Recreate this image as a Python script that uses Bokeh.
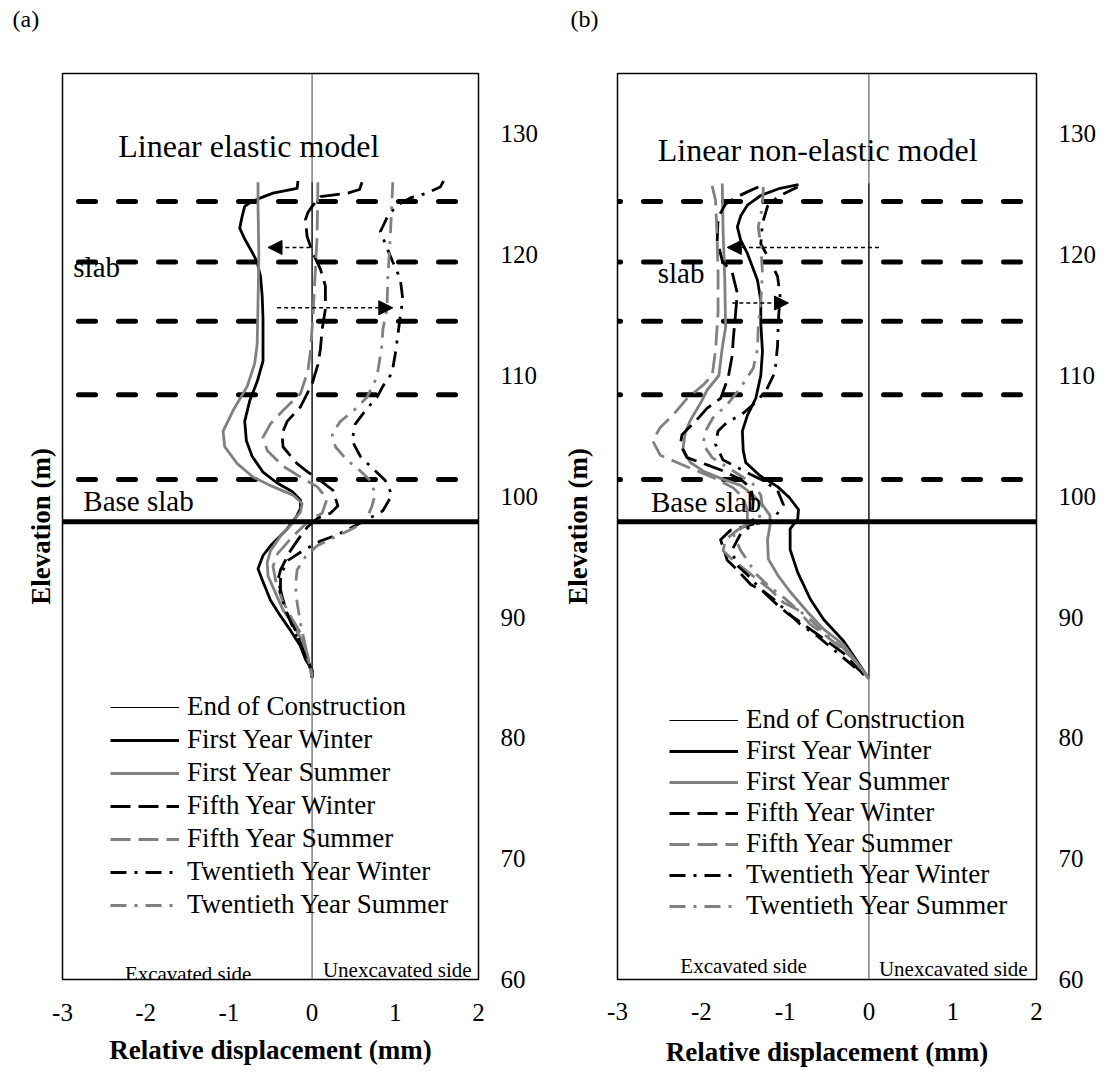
import math
from bokeh.plotting import figure
from bokeh.models import Span, Label, Arrow, NormalHead, Legend, LegendItem, FixedTicker, LinearAxis
from bokeh.layouts import row
from bokeh.embed import file_html
from bokeh.resources import INLINE

FONT = "Liberation Serif"
GRAY = "#808080"

SERIES = ["End of Construction", "First Year Winter", "First Year Summer",
          "Fifth Year Winter", "Fifth Year Summer",
          "Twentieth Year Winter", "Twentieth Year Summer"]
X_TICKS = [-3, -2, -1, 0, 1, 2]
X_TICK_LABELS = {-3: "-3", -2: "-2", -1: "-1", 0: "0", 1: "1", 2: "2"}
Y_TICKS = [60, 70, 80, 90, 100, 110, 120, 130]
SLAB_LEVELS = [124.4, 119.4, 114.5, 108.4, 101.4]
BASE_SLAB = 97.9

# ---------------- panel (a): linear elastic model ----------------
A_EOC_X = [0.0, 0.0]
A_EOC_Y = [85.0, 126.0]

A_FYW_X = [-0.17, -0.18, -0.47, -0.62, -0.75, -0.81, -0.84, -0.87, -0.81, -0.72, -0.66, -0.62, -0.60,
           -0.59, -0.59, -0.59, -0.66, -0.75, -0.81, -0.79, -0.72, -0.59, -0.42, -0.24, -0.14, -0.14,
           -0.19, -0.30, -0.50, -0.59, -0.65, -0.60, -0.50, -0.38, -0.26, -0.14, -0.08, 0.0, 0.0]
A_FYW_Y = [126.1, 125.5, 125.1, 124.7, 124.3, 124.0, 123.2, 122.2, 121.3, 120.2, 119.4, 118.2, 116.6,
           114.7, 112.4, 111.2, 109.5, 107.9, 106.2, 104.6, 103.3, 102.0, 101.1, 100.4, 99.7, 99.0,
           98.3, 97.3, 95.9, 95.1, 94.0, 93.1, 91.4, 90.1, 88.9, 87.6, 86.5, 85.6, 85.0]

A_FYS_X = [-0.65, -0.65, -0.64, -0.65, -0.66, -0.69, -0.78, -0.95, -1.07, -1.05, -0.90, -0.71, -0.47,
           -0.23, -0.12, -0.14, -0.20, -0.23, -0.38, -0.50, -0.54, -0.53, -0.44, -0.35, -0.24, -0.12,
           -0.06, -0.01, 0.0]
A_FYS_Y = [126.0, 124.0, 120.0, 116.0, 112.6, 111.0, 109.1, 107.1, 105.4, 104.1, 102.7, 101.6, 100.8,
           100.1, 99.4, 98.7, 98.2, 97.8, 96.7, 95.5, 94.5, 93.4, 92.0, 90.6, 89.5, 88.1,
           86.8, 85.6, 85.0]

A_FIW_X = [0.60, 0.57, 0.43, 0.10, 0.0, -0.05, -0.08, -0.06, 0.0, 0.10, 0.16, 0.16, 0.12, 0.10, 0.07,
           0.0, -0.14, -0.30, -0.36, -0.35, -0.18, -0.05, 0.10, 0.25, 0.31, 0.22, 0.07, -0.05, -0.14,
           -0.26, -0.38, -0.41, -0.36, -0.30, -0.20, -0.11, 0.0, 0.0]
A_FIW_Y = [126.0, 125.4, 125.1, 124.8, 124.0, 123.5, 122.9, 121.5, 120.3, 118.8, 117.4, 115.5, 113.8,
           112.2, 110.9, 109.3, 107.4, 106.2, 105.2, 104.1, 102.7, 102.0, 101.3, 100.5, 99.2, 98.6,
           98.2, 97.5, 96.7, 95.5, 93.9, 93.1, 91.7, 90.3, 88.9, 87.3, 85.6, 85.0]

A_FIS_X = [0.07, 0.06, 0.04, 0.01, -0.02, -0.05, -0.14, -0.35, -0.50, -0.59, -0.54, -0.35, -0.14, 0.06,
           0.18, 0.12, 0.01, -0.11, -0.23, -0.41, -0.47, -0.44, -0.36, -0.26, -0.14, -0.06, -0.01, 0.0]
A_FIS_Y = [126.0, 121.5, 118.8, 114.9, 112.0, 110.4, 108.5, 107.1, 106.0, 104.9, 103.8, 102.5, 101.6,
           100.8, 99.8, 98.6, 98.2, 97.5, 96.7, 95.3, 94.2, 93.1, 91.4, 90.1, 88.7, 87.0, 85.6, 85.0]

A_TWW_X = [1.58, 1.54, 1.38, 1.18, 1.02, 0.91, 0.82, 0.91, 0.97, 1.06, 1.09, 1.06, 1.03, 1.00, 0.96,
           0.85, 0.78, 0.64, 0.52, 0.48, 0.58, 0.73, 0.88, 0.96, 0.85, 0.72, 0.50, 0.30, 0.10, -0.11,
           -0.29, -0.38, -0.38, -0.32, -0.24, -0.12, -0.01, 0.0]
A_TWW_Y = [126.1, 125.6, 125.1, 124.7, 124.1, 123.2, 121.9, 120.4, 119.4, 118.0, 116.3, 114.9, 113.3,
           111.8, 110.2, 109.1, 108.2, 107.1, 106.0, 104.6, 103.3, 102.3, 101.3, 100.1, 98.8, 98.3,
           97.5, 96.8, 96.3, 95.5, 94.7, 93.5, 92.0, 90.6, 89.3, 87.3, 85.6, 85.0]

A_TWS_X = [0.97, 0.94, 0.91, 0.90, 0.85, 0.84, 0.78, 0.66, 0.50, 0.34, 0.24, 0.28, 0.42, 0.58, 0.70,
           0.76, 0.72, 0.66, 0.54, 0.30, 0.06, -0.08, -0.18, -0.20, -0.18, -0.14, -0.08, -0.02, 0.0]
A_TWS_Y = [126.0, 121.5, 118.0, 115.5, 113.8, 112.5, 109.9, 108.2, 107.1, 106.2, 105.2, 104.1, 103.0,
           102.1, 101.3, 100.2, 99.2, 98.2, 97.5, 96.7, 95.9, 95.0, 93.9, 92.6, 91.2, 89.5, 87.6,
           85.6, 85.0]

# ---------------- panel (b): linear non-elastic model ----------------
B_EOC_X = [0.0, 0.0]
B_EOC_Y = [84.9, 125.9]

B_FYW_X = [-0.84, -1.06, -1.29, -1.45, -1.53, -1.57, -1.53, -1.45, -1.39, -1.33, -1.29, -1.29, -1.27,
           -1.29, -1.35, -1.45, -1.51, -1.50, -1.47, -1.30, -1.09, -0.95, -0.84, -0.85, -0.94, -0.94,
           -0.85, -0.70, -0.54, -0.30, 0.0]
B_FYW_Y = [125.8, 125.5, 124.9, 124.1, 123.2, 122.3, 121.2, 120.1, 119.0, 117.9, 116.2, 114.3, 112.0,
           110.0, 108.1, 106.7, 105.4, 103.8, 102.8, 101.7, 100.8, 99.9, 98.9, 98.1, 97.3, 95.6,
           93.7, 91.5, 89.8, 88.0, 84.9]

B_FYS_X = [-1.75, -1.74, -1.72, -1.71, -1.75, -1.79, -1.93, -2.01, -2.13, -2.19, -2.22, -2.13, -1.98,
           -1.74, -1.53, -1.38, -1.26, -1.18, -1.18, -1.21, -1.20, -1.09, -0.94, -0.73, -0.54, -0.30, 0.0]
B_FYS_Y = [125.9, 122.0, 118.0, 114.0, 112.3, 110.0, 108.8, 107.7, 106.3, 105.3, 103.9, 102.8, 102.1,
           101.4, 100.9, 100.1, 99.2, 98.4, 97.6, 96.4, 94.8, 93.5, 92.1, 90.4, 89.0, 87.7, 84.9]

B_FIW_X = [-1.32, -1.45, -1.57, -1.71, -1.80, -1.81, -1.75, -1.63, -1.57, -1.59, -1.62, -1.63, -1.68,
           -1.77, -1.93, -2.07, -2.23, -2.25, -2.17, -1.93, -1.74, -1.53, -1.41, -1.38, -1.39, -1.38,
           -1.65, -1.77, -1.69, -1.57, -1.41, -1.26, -1.09, -0.97, -0.78, -0.66, -0.46, -0.30, -0.13, 0.0]
B_FIW_Y = [125.6, 125.2, 124.8, 124.2, 123.1, 121.2, 119.5, 118.5, 116.8, 115.2, 112.9, 111.7, 109.8,
           108.1, 107.3, 106.2, 105.1, 104.3, 103.2, 102.6, 102.1, 101.4, 100.7, 99.7, 98.5, 97.7,
           97.2, 96.4, 94.7, 93.9, 92.7, 92.1, 91.0, 90.3, 89.4, 88.8, 87.8, 87.0, 85.7, 84.9]

B_FIS_X = [-1.87, -1.83, -1.81, -1.80, -1.80, -1.83, -1.87, -1.98, -2.17, -2.34, -2.49, -2.58, -2.49,
           -2.29, -2.05, -1.81, -1.62, -1.50, -1.45, -1.45, -1.57, -1.71, -1.74, -1.62, -1.47, -1.33,
           -1.18, -1.02, -0.85, -0.70, -0.54, -0.34, -0.18, 0.0]
B_FIS_Y = [125.7, 124.5, 121.2, 118.5, 115.2, 112.1, 110.0, 109.2, 108.1, 106.7, 105.7, 104.6, 103.4,
           102.8, 102.1, 101.4, 100.7, 99.9, 98.8, 97.7, 97.2, 96.4, 95.5, 94.7, 93.9, 93.1,
           92.3, 91.2, 90.6, 89.4, 88.6, 87.5, 86.5, 84.9]

B_TWW_X = [-0.85, -1.09, -1.21, -1.27, -1.29, -1.21, -1.09, -1.06, -1.08, -1.09, -1.12, -1.23, -1.38,
           -1.53, -1.68, -1.80, -1.83, -1.74, -1.57, -1.41, -1.26, -1.09, -1.02, -1.15, -1.38, -1.53,
           -1.63, -1.59, -1.45, -1.29, -1.14, -0.97, -0.82, -0.61, -0.42, -0.18, 0.0]
B_TWW_Y = [125.6, 124.8, 124.0, 122.6, 120.9, 119.9, 118.2, 116.6, 114.6, 112.5, 110.3, 108.7, 107.6,
           106.7, 106.2, 105.4, 104.3, 103.0, 102.4, 101.8, 101.3, 100.5, 99.3, 98.0, 97.7, 96.9,
           95.6, 94.4, 93.5, 92.3, 91.5, 90.4, 89.4, 88.4, 87.3, 85.9, 84.9]

B_TWS_X = [-1.26, -1.27, -1.32, -1.29, -1.27, -1.29, -1.32, -1.33, -1.38, -1.53, -1.69, -1.86, -1.95,
           -1.98, -1.87, -1.69, -1.53, -1.38, -1.29, -1.27, -1.32, -1.45, -1.62, -1.53, -1.45, -1.35,
           -1.20, -1.03, -0.88, -0.70, -0.52, -0.30, -0.13, 0.0]
B_TWS_Y = [125.6, 124.0, 122.3, 120.7, 118.5, 116.2, 114.1, 112.2, 110.6, 109.0, 107.6, 106.5, 105.4,
           104.3, 103.2, 102.4, 101.7, 101.0, 100.1, 99.1, 98.0, 97.7, 96.9, 95.5, 94.7, 93.6,
           92.6, 91.7, 90.8, 89.8, 88.6, 87.4, 86.1, 84.9]

# arrows (x_start, y_start, x_end, y_end)
A_ARROWS = [(-0.02, 120.6, -0.53, 120.6), (-0.42, 115.6, 0.97, 115.6)]
B_ARROWS = [(0.12, 120.6, -1.69, 120.6), (-1.63, 116.0, -0.96, 116.0)]

STYLES = {
    "End of Construction": dict(color="black", width=1.0, dash="solid"),
    "First Year Winter": dict(color="black", width=2.8, dash="solid"),
    "First Year Summer": dict(color=GRAY, width=2.8, dash="solid"),
    "Fifth Year Winter": dict(color="black", width=2.8, dash="20 8"),
    "Fifth Year Summer": dict(color=GRAY, width=2.8, dash="20 8"),
    "Twentieth Year Winter": dict(color="black", width=2.8, dash="16 8 3 8"),
    "Twentieth Year Summer": dict(color=GRAY, width=2.8, dash="16 8 3 8"),
}


def build_panel(width, border_l, border_r, border_t, border_b, curves, arrows, title, title_xy,
                slab_xy, base_xy, exc_xy, unexc_xy, dash_offset, legend_loc, legend_spacing,
                panel_label, panel_offset, panel_standoff, elev_standoff, tick_standoff, xlabel_standoff):
    p = figure(width=width, height=1073, x_range=(-3, 2), y_range=(60, 135),
               y_axis_location="right", output_backend="svg", toolbar_location=None,
               min_border_left=border_l, min_border_right=border_r,
               min_border_top=border_t, min_border_bottom=border_b)
    p.xgrid.visible = False
    p.ygrid.visible = False
    p.background_fill_color = "white"
    p.border_fill_color = "white"
    p.outline_line_color = "black"
    p.outline_line_width = 1.5

    # panel label "(a)" / "(b)" as the plot title (blank second line lifts it to the top edge)
    p.title.text = panel_label + "\n "
    p.title.text_font = FONT
    p.title.text_font_size = "24px"
    p.title.text_font_style = "normal"
    p.title.text_color = "black"
    p.title.text_line_height = 1.45
    p.title.align = "left"
    p.title.vertical_align = "top"
    p.title.offset = panel_offset
    p.title.standoff = panel_standoff

    xa = p.xaxis[0]
    xa.ticker = FixedTicker(ticks=X_TICKS)
    xa.major_label_overrides = X_TICK_LABELS
    xa.axis_line_color = None
    xa.major_tick_line_color = None
    xa.minor_tick_line_color = None
    xa.major_tick_out = 0
    xa.major_tick_in = 0
    xa.major_label_text_font = FONT
    xa.major_label_text_font_size = "25px"
    xa.major_label_text_color = "black"
    xa.major_label_standoff = tick_standoff
    xa.axis_label = "Relative displacement (mm)"
    xa.axis_label_text_font = FONT
    xa.axis_label_text_font_style = "bold"
    xa.axis_label_text_font_size = "27px"
    xa.axis_label_text_color = "black"
    xa.axis_label_standoff = xlabel_standoff

    ya = p.yaxis[0]
    ya.ticker = FixedTicker(ticks=Y_TICKS)
    ya.axis_line_color = None
    ya.major_tick_line_color = None
    ya.minor_tick_line_color = None
    ya.major_tick_out = 0
    ya.major_tick_in = 0
    ya.major_label_text_font = FONT
    ya.major_label_text_font_size = "25px"
    ya.major_label_text_color = "black"
    ya.major_label_standoff = 22

    # left axis carrying only the title "Elevation (m)"
    la = LinearAxis(ticker=FixedTicker(ticks=[]), axis_line_color=None,
                    major_tick_line_color=None, minor_tick_line_color=None,
                    major_tick_out=0, major_tick_in=0, minor_tick_out=0,
                    major_label_text_font_size="0px", major_label_standoff=0,
                    axis_label="Elevation (m)", axis_label_text_font=FONT,
                    axis_label_text_font_style="bold", axis_label_text_font_size="27px",
                    axis_label_text_color="black", axis_label_standoff=elev_standoff)
    p.add_layout(la, "left")

    # vertical reference axis at zero
    p.add_layout(Span(location=0, dimension="height", line_color=GRAY, line_width=1.5, level="underlay"))
    # floor slabs
    for lev in SLAB_LEVELS:
        p.add_layout(Span(location=lev, dimension="width", line_color="black", line_width=5,
                          line_dash="17 23", line_dash_offset=dash_offset, line_cap="round",
                          level="underlay"))
    # base slab
    p.add_layout(Span(location=BASE_SLAB, dimension="width", line_color="black", line_width=5))

    items = []
    for name, (xs, ys) in zip(SERIES, curves):
        st = STYLES[name]
        r = p.line(xs, ys, line_color=st["color"], line_width=st["width"], line_dash=st["dash"],
                   line_join="round")
        items.append(LegendItem(label=name, renderers=[r]))

    for (x0, y0, x1, y1) in arrows:
        p.add_layout(Arrow(end=NormalHead(size=14, fill_color="black", line_color="black"),
                           x_start=x0, y_start=y0, x_end=x1, y_end=y1,
                           line_color="black", line_width=1.5, line_dash="4 3"))

    legend = Legend(items=items, location=legend_loc, padding=0, margin=0, spacing=legend_spacing,
                    glyph_width=69, glyph_height=20, label_height=20, label_standoff=8,
                    label_text_font=FONT, label_text_font_size="27px", label_text_color="black",
                    border_line_color=None, background_fill_alpha=0)
    p.add_layout(legend, "center")

    def txt(s, xy, size):
        p.add_layout(Label(x=xy[0], y=xy[1], text=s, text_font=FONT, text_font_size=size,
                           text_color="black", text_align="left", text_baseline="alphabetic"))

    txt(title, title_xy, "32px")
    txt("slab", slab_xy, "29px")
    txt("Base slab", base_xy, "29px")
    txt("Excavated side", exc_xy, "21px")
    txt("Unexcavated side", unexc_xy, "21px")
    return p


curves_a = [(A_EOC_X, A_EOC_Y), (A_FYW_X, A_FYW_Y), (A_FYS_X, A_FYS_Y), (A_FIW_X, A_FIW_Y),
            (A_FIS_X, A_FIS_Y), (A_TWW_X, A_TWW_Y), (A_TWS_X, A_TWS_Y)]
curves_b = [(B_EOC_X, B_EOC_Y), (B_FYW_X, B_FYW_Y), (B_FYS_X, B_FYS_Y), (B_FIW_X, B_FIW_Y),
            (B_FIS_X, B_FIS_Y), (B_TWW_X, B_TWW_Y), (B_TWS_X, B_TWS_Y)]

pa = build_panel(555, 62, 77, 73, 90, curves_a, A_ARROWS, "Linear elastic model", (-2.33, 129.0),
                 (-2.87, 119.0), (-2.75, 99.65), (-2.25, 60.45), (0.13, 60.8), 24, (48, 59), 2,
                 "(a)", -50, 4, 7, 24, 11)
pb = build_panel(552, 62, 71, 72, 94, curves_b, B_ARROWS, "Linear non-elastic model", (-2.52, 128.7),
                 (-2.52, 118.45), (-2.60, 99.5), (-2.25, 61.15), (0.12, 60.85), 14, (52, 58), 0,
                 "(b)", -47, 4, 25, 23, 14)

layout = row(pa, pb)
open("out.html", "w").write(file_html(layout, INLINE))
